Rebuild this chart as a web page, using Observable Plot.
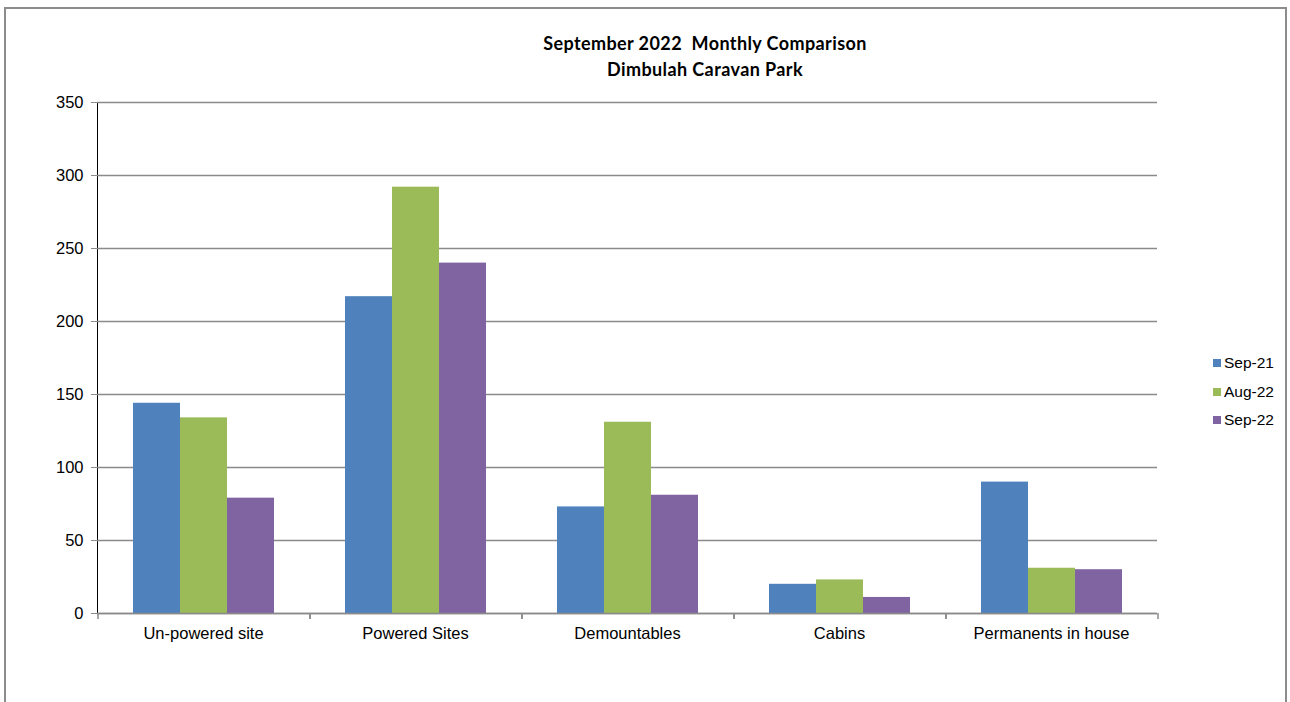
<!DOCTYPE html>
<html>
<head>
<meta charset="utf-8">
<script src="https://cdn.jsdelivr.net/npm/d3@7"></script>
<script src="https://cdn.jsdelivr.net/npm/@observablehq/plot@0.6"></script>
<style>
  html, body { margin: 0; padding: 0; background: #fff; }
  body { width: 1290px; height: 702px; position: relative; overflow: hidden; font-family: Arial, "Liberation Sans", sans-serif; }
  #frame { position: absolute; left: 4px; top: 7px; width: 1283px; height: 760px; border: 2px solid #8c8c8c; box-sizing: border-box; }
  #title { position: absolute; left: 405px; width: 600px; top: 31px; text-align: center; font-family: Lato, "Open Sans", sans-serif; font-weight: bold; font-size: 18px; letter-spacing: 0.4px; line-height: 25.5px; color: #000; white-space: pre; }
  #chart { position: absolute; left: 0; top: 0; }
  #legend { position: absolute; left: 1213px; top: 349px; font-family: Arial, "Liberation Sans", sans-serif; font-size: 15.5px; color: #000; }
  #legend .row { height: 28.5px; display: flex; align-items: center; }
  #legend .sw { width: 8px; height: 8px; margin-right: 3px; }
  #chart svg g[aria-label^="y-axis"] line,
  #chart svg g[aria-label^="y-axis"] path { stroke: #8a8a8a; }
</style>
</head>
<body>
<div id="frame"></div>
<div id="title"></div>
<div id="chart"></div>
<div id="legend"></div>
<script>
const titleLines = ["September 2022  Monthly Comparison", "Dimbulah Caravan Park"];
const categories = ["Un-powered site", "Powered Sites", "Demountables", "Cabins", "Permanents in house"];
const series = ["Sep-21", "Aug-22", "Sep-22"];
const sep21 = [144, 217, 73, 20, 90];
const aug22 = [134, 292, 131, 23, 31];
const sep22 = [79, 240, 81, 11, 30];
const yTicks = [0, 50, 100, 150, 200, 250, 300, 350];
const colors = ["#4F81BD", "#9BBB59", "#8064A2"];

const valuesBySeries = [sep21, aug22, sep22];
const data = [];
categories.forEach((c, i) => {
  series.forEach((s, j) => data.push({category: c, series: s, value: valuesBySeries[j][i]}));
});

document.getElementById("title").textContent = titleLines.join("\n");

const gridColor = "#8a8a8a";
const chart = Plot.plot({
  width: 1290,
  height: 702,
  marginLeft: 96,
  marginRight: 133,
  marginTop: 102,
  marginBottom: 89,
  style: {fontFamily: "Arial, 'Liberation Sans', sans-serif", fontSize: "16.5px", color: "#000", background: "transparent", overflow: "visible"},
  facet: {data, x: "category"},
  fx: {domain: categories, padding: 0, label: null, axis: "bottom", tickSize: 0, tickPadding: 14},
  x: {domain: series, paddingInner: 0, paddingOuter: 0.755, axis: null},
  y: {domain: [0, 350], ticks: yTicks, tickSize: 6, tickPadding: 8, label: null, line: true},
  color: {domain: series, range: colors},
  marks: [
    Plot.ruleY(yTicks, {stroke: gridColor, strokeWidth: 1.3}),
    Plot.barY(data, {x: "series", y: "value", fill: "series"}),
    Plot.ruleY([0], {stroke: gridColor, strokeWidth: 1.5}),
    Plot.ruleX([series[0]], {y1: 0, y2: 0, insetBottom: -6, dx: -59, stroke: gridColor, strokeWidth: 1.5}),
    Plot.ruleX([series[series.length - 1]], {y1: 0, y2: 0, insetBottom: -6, dx: 59, stroke: gridColor, strokeWidth: 1.5})
  ]
});
document.getElementById("chart").appendChild(chart);

const legend = document.getElementById("legend");
series.forEach((s, i) => {
  const row = document.createElement("div");
  row.className = "row";
  const sw = document.createElement("div");
  sw.className = "sw";
  sw.style.background = colors[i];
  const label = document.createElement("span");
  label.textContent = s;
  row.appendChild(sw);
  row.appendChild(label);
  legend.appendChild(row);
});
</script>
</body>
</html>
